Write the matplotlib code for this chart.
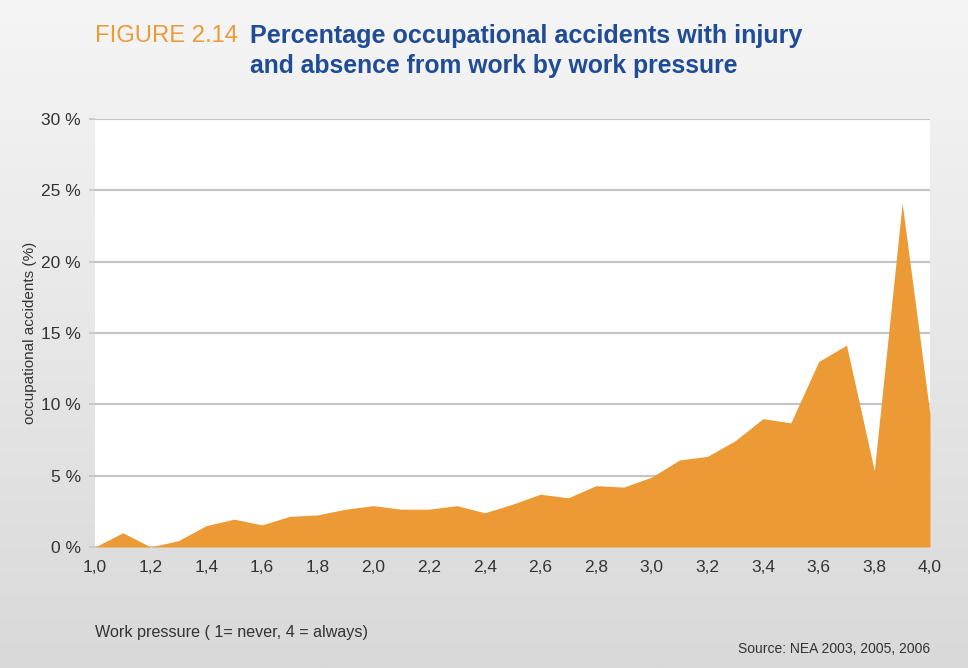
import numpy as np
import matplotlib.pyplot as plt
from matplotlib.colors import LinearSegmentedColormap
from matplotlib.ticker import FuncFormatter

# work pressure scale 1 (never) .. 4 (always), steps of 0.1
pressure = [1.0, 1.1, 1.2, 1.3, 1.4, 1.5, 1.6, 1.7, 1.8, 1.9,
            2.0, 2.1, 2.2, 2.3, 2.4, 2.5, 2.6, 2.7, 2.8, 2.9,
            3.0, 3.1, 3.2, 3.3, 3.4, 3.5, 3.6, 3.7, 3.8, 3.9, 4.0]
# share of occupational accidents with injury and absence (%)
accidents = [0.0, 1.0, 0.0, 0.45, 1.5, 1.95, 1.55, 2.15, 2.25, 2.65,
             2.9, 2.65, 2.65, 2.9, 2.4, 3.0, 3.7, 3.45, 4.3, 4.2,
             4.9, 6.1, 6.35, 7.45, 9.0, 8.7, 13.0, 14.15, 5.35, 24.1, 9.3]

y_ticks = [0, 5, 10, 15, 20, 25, 30]
x_ticks = [1.0, 1.2, 1.4, 1.6, 1.8, 2.0, 2.2, 2.4, 2.6, 2.8, 3.0, 3.2, 3.4, 3.6, 3.8, 4.0]

ORANGE = "#EC9A36"
BLUE = "#1F4C94"
GRID = "#c4c4c4"
TXT = "#333333"

plt.rcParams["font.family"] = ["Liberation Sans", "DejaVu Sans"]

fig = plt.figure(figsize=(9.68, 6.68), dpi=100)

# light grey vertical gradient behind everything
bg = fig.add_axes([0, 0, 1, 1], zorder=-10)
grad = np.linspace(0, 1, 256).reshape(-1, 1)
bg.imshow(grad, aspect="auto", extent=[0, 1, 0, 1], origin="upper",
          cmap=LinearSegmentedColormap.from_list("bg", ["#f5f5f5", "#d9d9d9"]))
bg.set_axis_off()

ax = fig.add_axes([95 / 968, 1 - 547 / 668, 835 / 968, 428 / 668])
ax.set_facecolor("white")
ax.fill_between(pressure, accidents, 0, color=ORANGE, lw=0, zorder=3)

ax.set_xlim(1.0, 4.0)
ax.set_ylim(0, 30)
ax.set_yticks(y_ticks)
ax.set_xticks(x_ticks)
ax.yaxis.set_major_formatter(FuncFormatter(lambda v, p: f"{v:.0f} %"))
ax.xaxis.set_major_formatter(FuncFormatter(lambda v, p: f"{v:.1f}".replace(".", ",")))
ax.grid(axis="y", color=GRID, lw=1.6, zorder=1)
ax.tick_params(axis="y", length=4, color=GRID, width=1.2, pad=6,
               labelsize=12.5, labelcolor=TXT)
ax.tick_params(axis="x", length=0, pad=9, labelsize=12.5, labelcolor=TXT)
for s in ax.spines.values():
    s.set_visible(False)
ax.set_ylabel("occupational accidents (%)", fontsize=11, color=TXT, labelpad=3)


def fit_text(x, y, s, width_px, size, **kw):
    # shrink the font until the string spans the width seen in the reference
    t = fig.text(x / 968, 1 - y / 668, s, fontsize=size, va="center", **kw)
    r = fig.canvas.get_renderer()
    w = t.get_window_extent(r).width
    t.set_fontsize(size * width_px / w)
    return t


fit_text(95, 36, "FIGURE 2.14", 142, 18, color=ORANGE, ha="left")
fit_text(250, 36, "Percentage occupational accidents with injury", 553, 18,
         color=BLUE, fontweight="bold", ha="left")
fit_text(250, 66, "and absence from work by work pressure", 490, 18,
         color=BLUE, fontweight="bold", ha="left")
fit_text(95, 633, "Work pressure ( 1= never, 4 = always)", 272, 11,
         color=TXT, ha="left")
fit_text(930, 649, "Source: NEA 2003, 2005, 2006", 193, 10,
         color=TXT, ha="right")

fig.savefig("out.png", dpi=100)
